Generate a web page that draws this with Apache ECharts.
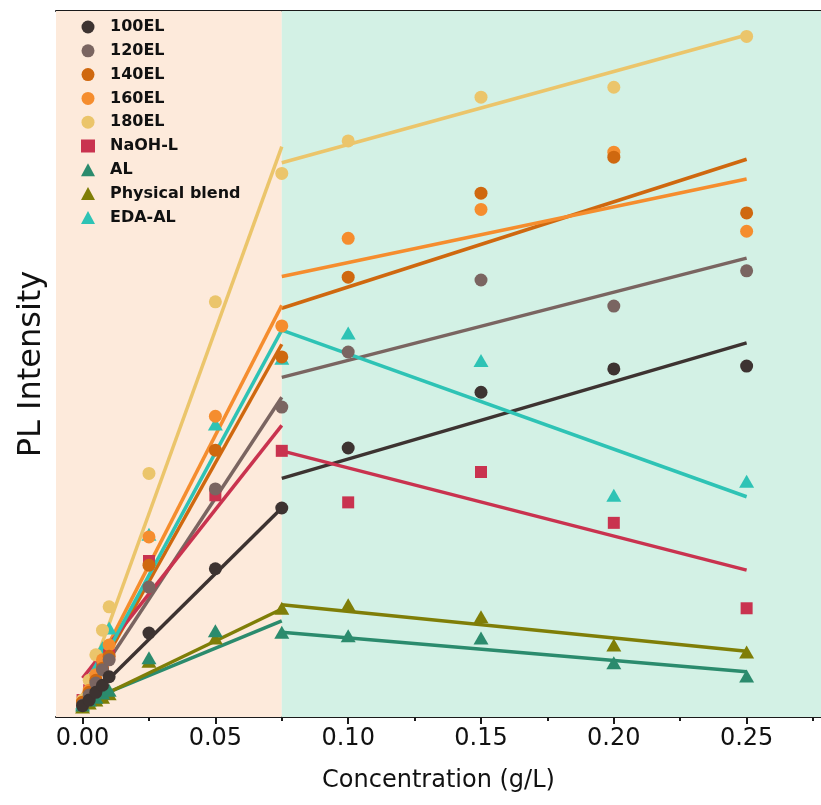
<!DOCTYPE html>
<html>
<head>
<meta charset="utf-8">
<script src="https://cdn.jsdelivr.net/npm/echarts@6/dist/echarts.min.js"></script>
<style>html,body{margin:0;padding:0;background:#fff}#c{width:821px;height:805px}</style>
</head>
<body>
<div id="c"></div>
<script>
// ---- data (PL intensity in arbitrary units) ----
const concentrations = [0, 0.0025, 0.005, 0.0075, 0.01, 0.025, 0.05, 0.075, 0.1, 0.15, 0.2, 0.25];
const el100 = [16, 24, 35, 45, 57, 119, 210, 296, 381, 460, 493, 497];
const el120 = [17, 31, 48, 67, 81, 184, 323, 439, 517, 619, 582, 632];
const el140 = [21, 35, 52, 69, 86, 215, 378, 510, 623, 742, 793, 714];
const el160 = [21, 38, 60, 81, 102, 255, 426, 554, 678, 719, 800, 688];
const el180 = [24, 52, 88, 123, 156, 345, 588, 770, 816, 878, 892, 964];
const naohL = [24, 38, 52, 69, 88, 221, 314, 377, 304, 347, 275, 154];
const al = [17, 24, 28, 34, 38, 84, 122, 120, 115, 112, 77, 58];
const physicalBlend = [14, 20, 24, 28, 33, 79, 112, 154, 159, 142, 102, 92];
const edaAL = [20, 38, 69, 98, 126, 259, 415, 508, 544, 505, 314, 334];

const seriesNames = ['100EL', '120EL', '140EL', '160EL', '180EL', 'NaOH-L', 'AL', 'Physical blend', 'EDA-AL'];
const seriesValues = [el100, el120, el140, el160, el180, naohL, al, physicalBlend, edaAL];
const seriesSymbols = ['circle', 'circle', 'circle', 'circle', 'circle', 'rect', 'triangle', 'triangle', 'triangle'];
const seriesColors = ['#3d3331', '#7a6561', '#cf680f', '#f58d2e', '#ebc56b', '#c9334f', '#2b8b6d', '#7f7e07', '#2ec3b5'];

// linear fits: low range [0, split], high range [split, 0.25]
const split = 0.075;
const fitLowX = [0, 0.075];
const fitHighX = [0.075, 0.25];
const fitLowStart = [17, 24, 24, 31, 28, 55, 20, 17, 27];
const fitLowEnd = [296, 453, 528, 583, 808, 413, 136, 153, 548];
const fitHighStart = [338, 481, 579, 624, 785, 377, 120, 159, 548];
const fitHighEnd = [530, 650, 790, 762, 966, 208, 64, 93, 312];

const xTickLabels = [0, 0.05, 0.1, 0.15, 0.2, 0.25];
const xMinorTicks = [0.025, 0.075, 0.125, 0.175, 0.225, 0.275];
const xMin = -0.01, xMax = 0.278;

const FONT = 'DejaVu Sans';
const chart = echarts.init(document.getElementById('c'));

const series = [];
series.push({
  type: 'line', name: 'bg', data: [], z: 0, silent: true,
  markArea: {
    silent: true,
    data: [
      [{ xAxis: xMin, itemStyle: { color: '#fdeadb' } }, { xAxis: split }],
      [{ xAxis: split, itemStyle: { color: '#d3f1e5' } }, { xAxis: xMax }]
    ]
  }
});
seriesNames.forEach((n, i) => {
  series.push({
    type: 'line', name: n + ' fit1', z: 2, showSymbol: false, silent: true,
    lineStyle: { color: seriesColors[i], width: 3.5 },
    data: [[fitLowX[0], fitLowStart[i]], [fitLowX[1], fitLowEnd[i]]]
  });
  series.push({
    type: 'line', name: n + ' fit2', z: 2, showSymbol: false, silent: true,
    lineStyle: { color: seriesColors[i], width: 3.5 },
    data: [[fitHighX[0], fitHighStart[i]], [fitHighX[1], fitHighEnd[i]]]
  });
});
const scatterOrder = [8, 7, 6, 5, 4, 3, 2, 1, 0];
scatterOrder.forEach(i => {
  const sym = seriesSymbols[i];
  series.push({
    type: 'scatter', name: seriesNames[i], z: 3,
    symbol: sym,
    symbolSize: sym === 'circle' ? 13 : (sym === 'rect' ? 12 : [15, 13]),
    itemStyle: { color: seriesColors[i], opacity: 1 },
    data: concentrations.map((c, k) => [c, seriesValues[i][k]])
  });
});

const option = {
  animation: false,
  backgroundColor: '#ffffff',
  grid: { left: 56, top: 11, right: 0, bottom: 88, containLabel: false },
  legend: {
    orient: 'vertical', left: 81, top: 19, padding: 0,
    itemWidth: 14, itemHeight: 13, itemGap: 7.8,
    textStyle: { fontFamily: FONT, fontWeight: 'bold', fontSize: 16, color: '#111', lineHeight: 16, padding: [0, 0, 0, 10] },
    data: seriesNames.map((n, i) => ({ name: n, icon: seriesSymbols[i] })),
    selectedMode: false
  },
  xAxis: [
    {
      type: 'value', min: xMin, max: xMax, position: 'bottom',
      axisLine: { show: true, lineStyle: { color: '#1a1a1a', width: 2 } },
      axisTick: { show: true, inside: false, length: 7, lineStyle: { color: '#1a1a1a', width: 2 }, customValues: xTickLabels },
      axisLabel: {
        customValues: xTickLabels, margin: 10,
        fontFamily: FONT, fontSize: 24, color: '#111',
        formatter: v => v.toFixed(2)
      },
      splitLine: { show: false },
      name: 'Concentration (g/L)', nameLocation: 'middle', nameGap: 52,
      nameTextStyle: { fontFamily: FONT, fontSize: 24, color: '#111' }
    },
    {
      type: 'value', min: xMin, max: xMax, position: 'bottom',
      axisLine: { show: false },
      axisTick: { show: true, inside: false, length: 4, lineStyle: { color: '#1a1a1a', width: 2 }, customValues: xMinorTicks },
      axisLabel: { show: false }, splitLine: { show: false }
    },
    {
      type: 'value', min: xMin, max: xMax, position: 'top',
      axisLine: { show: true, lineStyle: { color: '#1a1a1a', width: 2 } },
      axisTick: { show: false }, axisLabel: { show: false }, splitLine: { show: false }
    }
  ],
  yAxis: {
    type: 'value', min: 0, max: 1000,
    axisLine: { show: true, lineStyle: { color: '#1a1a1a', width: 2 } },
    axisTick: { show: false }, axisLabel: { show: false }, splitLine: { show: false },
    name: 'PL Intensity', nameLocation: 'middle', nameGap: 8,
    nameTextStyle: { fontFamily: FONT, fontSize: 32, color: '#111' }
  },
  series: series
};
chart.setOption(option);
</script>
</body>
</html>
